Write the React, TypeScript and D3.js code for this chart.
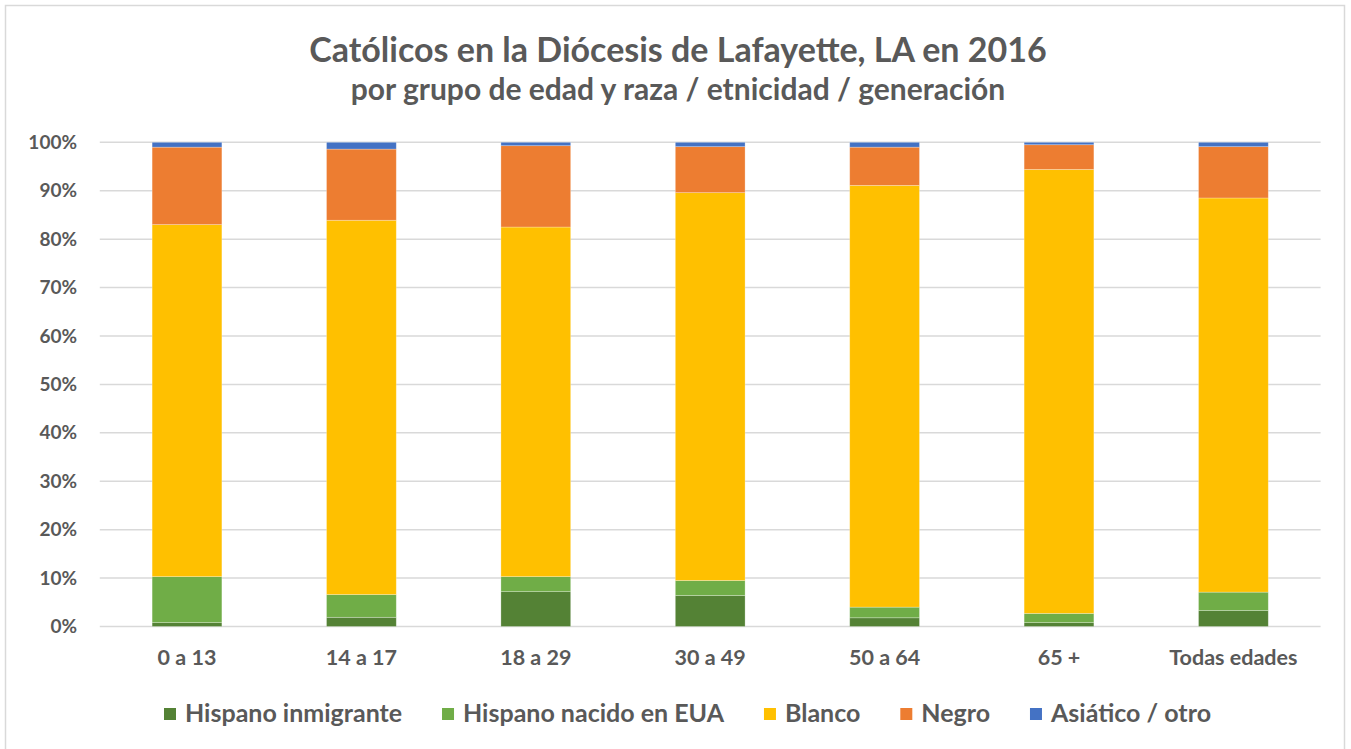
import React, { useEffect, useRef } from "react";
import * as d3 from "d3";

const categories = ["0 a 13", "14 a 17", "18 a 29", "30 a 49", "50 a 64", "65 +", "Todas edades"];
const seriesNames = ["Hispano inmigrante", "Hispano nacido en EUA", "Blanco", "Negro", "Asiático / otro"];
const seriesColors = ["#548235", "#70ad47", "#ffc000", "#ed7d31", "#4472c4"];
const hispanoInmigrante = [0.8, 1.9, 7.2, 6.4, 1.8, 0.8, 3.3];
const hispanoNacido = [9.5, 4.7, 3.1, 3.1, 2.2, 1.9, 3.8];
const blanco = [72.7, 77.3, 72.2, 80.1, 87.1, 91.7, 81.4];
const negro = [16.0, 14.7, 16.8, 9.5, 7.9, 5.1, 10.6];
const asiatico = [1.0, 1.4, 0.7, 0.9, 1.0, 0.5, 0.9];
const yTicks = [0, 10, 20, 30, 40, 50, 60, 70, 80, 90, 100];

const W = 1351;
const H = 749;
const FONT = "Lato, 'Open Sans', sans-serif";
const TEXT = "#595959";

export default function App() {
  const ref = useRef<SVGSVGElement>(null);

  useEffect(() => {
    const svg = d3.select(ref.current);
    svg.selectAll("*").remove();

    svg.append("rect").attr("x", 5.5).attr("y", 5.5).attr("width", W - 12).attr("height", H).attr("fill", "#fff").attr("stroke", "#d9d9d9").attr("stroke-width", 1.5);

    const left = 99.8, right = 1320.6, top = 142.3, bottom = 626.5;
    const x = d3.scaleBand().domain(categories).range([left, right]).paddingInner(0.6).paddingOuter(0.3);
    const y = d3.scaleLinear().domain([0, 100]).range([bottom, top]);

    svg.append("g").selectAll("line").data(yTicks).join("line")
      .attr("x1", left).attr("x2", right)
      .attr("y1", (d) => y(d)).attr("y2", (d) => y(d))
      .attr("stroke", "#d9d9d9").attr("stroke-width", 1.5);

    svg.append("g").selectAll("text").data(yTicks).join("text")
      .attr("x", 77).attr("y", (d) => y(d)).attr("dy", "0.35em")
      .attr("text-anchor", "end").attr("font-family", FONT).attr("font-weight", "bold")
      .attr("font-size", 19).attr("fill", TEXT).text((d) => `${d}%`);

    const rows = categories.map((c, i) => ({
      cat: c,
      s0: hispanoInmigrante[i], s1: hispanoNacido[i], s2: blanco[i], s3: negro[i], s4: asiatico[i],
    }));
    const stack = d3.stack<any>().keys(["s0", "s1", "s2", "s3", "s4"])(rows);

    svg.append("g").selectAll("g").data(stack).join("g")
      .attr("fill", (_d, i) => seriesColors[i])
      .selectAll("rect").data((d) => d).join("rect")
      .attr("x", (d: any) => x(d.data.cat)!)
      .attr("width", x.bandwidth())
      .attr("y", (d) => y(d[1]))
      .attr("height", (d) => y(d[0]) - y(d[1]))
      .attr("stroke", "rgba(255,255,255,0.35)").attr("stroke-width", 0.75);

    svg.append("g").selectAll("text").data(categories).join("text")
      .attr("x", (d) => x(d)! + x.bandwidth() / 2).attr("y", 665)
      .attr("text-anchor", "middle").attr("font-family", FONT).attr("font-weight", "bold")
      .attr("font-size", 21.5).attr("fill", TEXT).text((d) => d);

    svg.append("text").attr("x", 678).attr("y", 62).attr("text-anchor", "middle")
      .attr("font-family", FONT).attr("font-weight", "bold").attr("font-size", 34).attr("fill", TEXT)
      .text("Católicos en la Diócesis de Lafayette, LA en 2016");
    svg.append("text").attr("x", 678).attr("y", 100).attr("text-anchor", "middle")
      .attr("font-family", FONT).attr("font-weight", "bold").attr("font-size", 30).attr("fill", TEXT)
      .text("por grupo de edad y raza / etnicidad / generación");

    const lg = svg.append("g");
    const items = lg.selectAll("g").data(seriesNames).join("g");
    items.append("rect").attr("width", 12).attr("height", 12).attr("y", 708).attr("fill", (_d, i) => seriesColors[i]);
    const texts = items.append("text").attr("x", 21).attr("y", 722)
      .attr("font-family", FONT).attr("font-weight", "bold").attr("font-size", 25).attr("fill", TEXT)
      .text((d) => d);
    const widths: number[] = [];
    texts.each(function () { widths.push((this as SVGTextElement).getComputedTextLength()); });
    const span = 1211 - 164;
    const used = widths.reduce((a, w) => a + 21 + w, 0);
    const gap = Math.max(20, (span - used) / (widths.length - 1));
    const total = used + gap * (widths.length - 1);
    let cx = 687.5 - total / 2;
    const offsets: number[] = [];
    widths.forEach((w) => { offsets.push(cx); cx += 21 + w + gap; });
    items.attr("transform", (_d, i) => `translate(${offsets[i]},0)`);
  }, []);

  return (
    <svg ref={ref} width={W} height={H} style={{ display: "block", position: "absolute", left: 0, top: 0 }} />
  );
}
